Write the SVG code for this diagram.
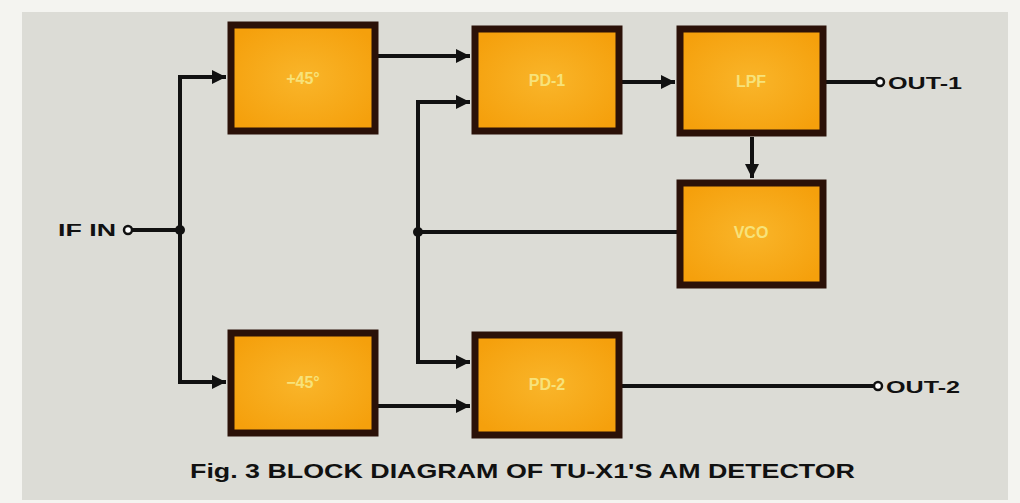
<svg xmlns="http://www.w3.org/2000/svg" width="1020" height="503" viewBox="0 0 1020 503">
<defs>
<marker id="ah" viewBox="0 0 10 10" refX="10" refY="5" markerWidth="4.5" markerHeight="3.5" orient="auto" markerUnits="strokeWidth">
<path d="M0,0 L10,5 L0,10 z" fill="#111"/>
</marker>
<radialGradient id="fillg" cx="50%" cy="50%" r="60%">
<stop offset="0" stop-color="#f9b52a"/>
<stop offset="1" stop-color="#f5a00c"/>
</radialGradient>
<style>
.box{fill:url(#fillg);stroke:#2b1108;stroke-width:7}
.lbl{font-family:"Liberation Sans",Arial,sans-serif;font-weight:bold;font-size:16px;fill:#f7e27a;text-anchor:middle}
.wire{fill:none;stroke:#111;stroke-width:4}
.arr{fill:none;stroke:#111;stroke-width:4;marker-end:url(#ah)}
.term{fill:#fff;stroke:#111;stroke-width:2.5}
.txt{font-family:"Liberation Sans",Arial,sans-serif;font-weight:bold;fill:#111}
</style>
</defs>
<rect x="0" y="0" width="1020" height="503" fill="#f4f4f0"/>
<rect x="22" y="12" width="986" height="488" fill="#dcdcd6"/>
<g id="connectors">
<circle class="term" cx="128" cy="230" r="4"/>
<line class="wire" x1="132" y1="230" x2="180" y2="230"/>
<circle cx="180" cy="230" r="5" fill="#111"/>
<path class="wire" d="M180,77 V382"/>
<line class="arr" x1="178" y1="77" x2="226" y2="77"/>
<line class="arr" x1="178" y1="382" x2="226" y2="382"/>
<line class="arr" x1="378" y1="56" x2="470" y2="56"/>
<line class="arr" x1="622" y1="82" x2="675" y2="82"/>
<line class="wire" x1="826" y1="82" x2="875" y2="82"/>
<circle class="term" cx="880" cy="82" r="4"/>
<line class="arr" x1="752" y1="137" x2="752" y2="178"/>
<line class="wire" x1="677" y1="232" x2="418" y2="232"/>
<circle cx="418" cy="232" r="5" fill="#111"/>
<path class="wire" d="M418,100 V364"/>
<line class="arr" x1="416" y1="102" x2="470" y2="102"/>
<line class="arr" x1="416" y1="362" x2="470" y2="362"/>
<line class="arr" x1="378" y1="406" x2="470" y2="406"/>
<line class="wire" x1="622" y1="386" x2="873" y2="386"/>
<circle class="term" cx="878" cy="386" r="4"/>
</g>
<g id="n-plus45"><rect class="box" x="231" y="25" width="144" height="106"/><text class="lbl" x="303" y="84">+45°</text></g>
<g id="n-pd1"><rect class="box" x="475" y="29" width="144" height="102"/><text class="lbl" x="547" y="86">PD-1</text></g>
<g id="n-lpf"><rect class="box" x="680" y="29" width="143" height="104"/><text class="lbl" x="751" y="87">LPF</text></g>
<g id="n-vco"><rect class="box" x="680" y="183" width="143" height="102"/><text class="lbl" x="751" y="238">VCO</text></g>
<g id="n-minus45"><rect class="box" x="231" y="333" width="144" height="100"/><text class="lbl" x="303" y="388">−45°</text></g>
<g id="n-pd2"><rect class="box" x="475" y="335" width="144" height="100"/><text class="lbl" x="547" y="390">PD-2</text></g>
<g id="labels">
<text class="txt" x="58" y="236" font-size="17" textLength="58" lengthAdjust="spacingAndGlyphs">IF IN</text>
<text class="txt" x="888" y="89" font-size="17" textLength="74" lengthAdjust="spacingAndGlyphs">OUT-1</text>
<text class="txt" x="886" y="393" font-size="17" textLength="74" lengthAdjust="spacingAndGlyphs">OUT-2</text>
<text class="txt" x="190" y="478" font-size="21" textLength="665" lengthAdjust="spacingAndGlyphs">Fig. 3 BLOCK DIAGRAM OF TU-X1'S AM DETECTOR</text>
</g>
</svg>
